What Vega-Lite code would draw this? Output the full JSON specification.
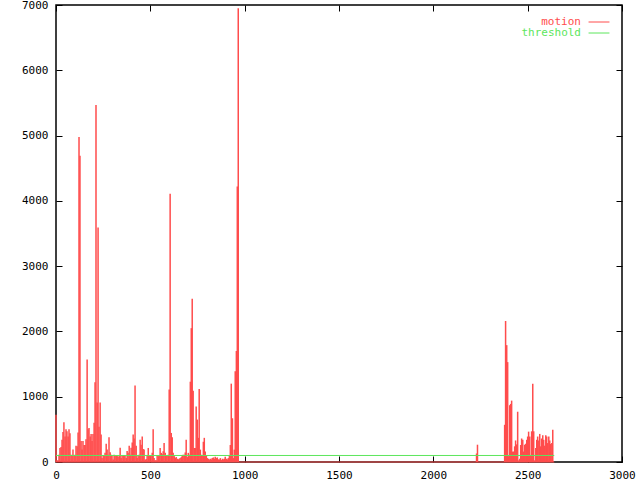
{
  "$schema": "https://vega.github.io/schema/vega-lite/v6.json",
  "width": 566,
  "height": 457,
  "autosize": {"type": "none"},
  "padding": {"left": 56, "top": 5, "right": 18, "bottom": 18},
  "background": "white",
  "view": {"stroke": "black", "strokeWidth": 1.5, "fill": null},
  "config": {"font": "DejaVu Sans Mono"},
  "data": {"values": [
    {"x":0,"motion":725},{"x":5,"motion":25},{"x":11,"motion":25},{"x":16,"motion":110},{"x":21,"motion":215},{"x":27,"motion":230},{"x":32,"motion":340},{"x":37,"motion":460},{"x":42,"motion":610},{"x":48,"motion":390},
    {"x":53,"motion":500},{"x":58,"motion":470},{"x":64,"motion":390},{"x":69,"motion":500},{"x":74,"motion":440},{"x":80,"motion":110},{"x":85,"motion":90},{"x":90,"motion":190},{"x":96,"motion":100},{"x":101,"motion":110},
    {"x":106,"motion":250},{"x":112,"motion":240},{"x":117,"motion":450},{"x":122,"motion":4980},{"x":127,"motion":4690},{"x":133,"motion":320},{"x":138,"motion":190},{"x":143,"motion":320},{"x":149,"motion":260},{"x":154,"motion":260},
    {"x":159,"motion":350},{"x":165,"motion":1570},{"x":170,"motion":500},{"x":175,"motion":520},{"x":181,"motion":390},{"x":186,"motion":430},{"x":191,"motion":320},{"x":196,"motion":430},{"x":202,"motion":600},{"x":207,"motion":1220},
    {"x":212,"motion":5470},{"x":218,"motion":910},{"x":223,"motion":3590},{"x":228,"motion":540},{"x":234,"motion":910},{"x":239,"motion":420},{"x":244,"motion":60},{"x":250,"motion":100},{"x":255,"motion":90},{"x":260,"motion":140},
    {"x":266,"motion":280},{"x":271,"motion":190},{"x":276,"motion":110},{"x":281,"motion":380},{"x":287,"motion":150},{"x":292,"motion":110},{"x":297,"motion":90},{"x":303,"motion":40},{"x":308,"motion":110},{"x":313,"motion":100},
    {"x":319,"motion":90},{"x":324,"motion":100},{"x":329,"motion":80},{"x":335,"motion":100},{"x":340,"motion":220},{"x":345,"motion":60},{"x":350,"motion":90},{"x":356,"motion":95},{"x":361,"motion":105},{"x":366,"motion":90},
    {"x":372,"motion":60},{"x":377,"motion":170},{"x":382,"motion":140},{"x":388,"motion":250},{"x":393,"motion":110},{"x":398,"motion":220},{"x":404,"motion":300},{"x":409,"motion":420},{"x":414,"motion":360},{"x":419,"motion":1170},
    {"x":425,"motion":250},{"x":430,"motion":60},{"x":435,"motion":100},{"x":441,"motion":110},{"x":446,"motion":340},{"x":451,"motion":265},{"x":457,"motion":390},{"x":462,"motion":200},{"x":467,"motion":190},{"x":473,"motion":35},
    {"x":478,"motion":45},{"x":483,"motion":100},{"x":489,"motion":215},{"x":494,"motion":90},{"x":499,"motion":90},{"x":504,"motion":90},{"x":510,"motion":140},{"x":515,"motion":500},{"x":520,"motion":60},{"x":526,"motion":25},
    {"x":531,"motion":25},{"x":536,"motion":90},{"x":542,"motion":90},{"x":547,"motion":100},{"x":552,"motion":215},{"x":558,"motion":140},{"x":563,"motion":120},{"x":568,"motion":165},{"x":573,"motion":290},{"x":579,"motion":140},
    {"x":584,"motion":90},{"x":589,"motion":90},{"x":595,"motion":110},{"x":600,"motion":1110},{"x":605,"motion":4110},{"x":611,"motion":445},{"x":616,"motion":380},{"x":621,"motion":140},{"x":627,"motion":90},{"x":632,"motion":60},
    {"x":637,"motion":75},{"x":643,"motion":50},{"x":648,"motion":40},{"x":653,"motion":50},{"x":658,"motion":60},{"x":664,"motion":75},{"x":669,"motion":90},{"x":674,"motion":110},{"x":680,"motion":110},{"x":685,"motion":145},
    {"x":690,"motion":340},{"x":696,"motion":75},{"x":701,"motion":140},{"x":706,"motion":110},{"x":712,"motion":1230},{"x":717,"motion":2050},{"x":722,"motion":2500},{"x":727,"motion":1090},{"x":733,"motion":215},{"x":738,"motion":215},
    {"x":743,"motion":850},{"x":749,"motion":650},{"x":754,"motion":370},{"x":759,"motion":1120},{"x":765,"motion":190},{"x":770,"motion":110},{"x":775,"motion":100},{"x":781,"motion":310},{"x":786,"motion":370},{"x":791,"motion":160},
    {"x":797,"motion":100},{"x":802,"motion":60},{"x":807,"motion":50},{"x":812,"motion":40},{"x":818,"motion":50},{"x":823,"motion":40},{"x":828,"motion":60},{"x":834,"motion":70},{"x":839,"motion":50},{"x":844,"motion":80},
    {"x":850,"motion":60},{"x":855,"motion":70},{"x":860,"motion":40},{"x":866,"motion":40},{"x":871,"motion":60},{"x":876,"motion":30},{"x":882,"motion":50},{"x":887,"motion":40},{"x":892,"motion":50},{"x":897,"motion":80},
    {"x":903,"motion":50},{"x":908,"motion":40},{"x":913,"motion":60},{"x":919,"motion":100},{"x":924,"motion":260},{"x":929,"motion":1200},{"x":935,"motion":670},{"x":940,"motion":60},{"x":945,"motion":190},{"x":950,"motion":1390},
    {"x":956,"motion":1700},{"x":961,"motion":4220},{"x":966,"motion":6950},{"x":1000,"motion":0},
    {"x":2229,"motion":130},{"x":2234,"motion":265},
    {"x":2378,"motion":570},{"x":2383,"motion":2160},{"x":2389,"motion":1790},{"x":2394,"motion":1530},{"x":2399,"motion":90},{"x":2405,"motion":870},{"x":2410,"motion":890},{"x":2415,"motion":940},{"x":2420,"motion":160},{"x":2426,"motion":160},
    {"x":2431,"motion":240},{"x":2436,"motion":330},{"x":2442,"motion":270},{"x":2447,"motion":770},{"x":2452,"motion":25},{"x":2458,"motion":50},{"x":2463,"motion":260},{"x":2468,"motion":360},{"x":2474,"motion":340},{"x":2479,"motion":160},
    {"x":2484,"motion":265},{"x":2490,"motion":280},{"x":2495,"motion":340},{"x":2500,"motion":390},{"x":2505,"motion":465},{"x":2511,"motion":390},{"x":2516,"motion":100},{"x":2521,"motion":470},{"x":2527,"motion":1200},{"x":2532,"motion":470},
    {"x":2537,"motion":25},{"x":2543,"motion":215},{"x":2548,"motion":340},{"x":2553,"motion":390},{"x":2559,"motion":330},{"x":2564,"motion":430},{"x":2569,"motion":240},{"x":2574,"motion":360},{"x":2580,"motion":410},{"x":2585,"motion":340},
    {"x":2590,"motion":250},{"x":2596,"motion":410},{"x":2601,"motion":390},{"x":2606,"motion":290},{"x":2612,"motion":390},{"x":2617,"motion":330},{"x":2622,"motion":275},{"x":2628,"motion":290},{"x":2633,"motion":495},{"x":2641,"motion":0}
  ]},
  "layer": [
    {
      "mark": {"type": "rule", "strokeWidth": 1.5},
      "encoding": {
        "x": {"field": "x", "type": "quantitative", "scale": {"domain": [0, 3000], "nice": false},
              "axis": {"orient": "bottom", "title": null, "values": [0,500,1000,1500,2000,2500,3000], "format": "d", "tickSize": -6, "tickColor": "black", "tickWidth": 1, "domain": false, "grid": false, "labelFont": "DejaVu Sans Mono", "labelFontSize": 11, "labelColor": "black", "labelPadding": 13, "labelFlush": false, "labelOverlap": false}},
        "y": {"field": "motion", "type": "quantitative", "scale": {"domain": [0, 7000], "nice": false},
              "axis": {"orient": "left", "title": null, "values": [0,1000,2000,3000,4000,5000,6000,7000], "format": "d", "tickSize": -6, "tickColor": "black", "tickWidth": 1, "domain": false, "grid": false, "labelFont": "DejaVu Sans Mono", "labelFontSize": 11, "labelColor": "black", "labelPadding": 14, "labelFlush": false, "labelOverlap": false}},
        "y2": {"datum": 0},
        "color": {"datum": "motion", "type": "nominal",
                  "scale": {"domain": ["motion", "threshold"], "range": ["#ff4c4c", "#5ce65c"]},
                  "legend": {"orient": "none", "legendX": 537, "legendY": 11, "title": null, "symbolType": "M-1.9,0H1.9", "symbolSize": 121, "symbolStrokeWidth": 1, "symbolFillColor": "transparent",
                             "labelFont": "DejaVu Sans Mono", "labelFontSize": 11, "labelAlign": "right", "labelOffset": -24, "padding": 0, "rowPadding": 0,
                             "encode": {"labels": {"update": {"fill": {"signal": "scale('color', datum.value)"}}},
                                        "symbols": {"update": {"stroke": {"signal": "scale('color', datum.value)"}, "strokeWidth": {"value": 1}}}}}}
      }
    },
    {
      "mark": {"type": "rule", "color": "#ff4c4c", "strokeWidth": 1},
      "encoding": {
        "x": {"aggregate": "min", "field": "x", "type": "quantitative", "axis": null},
        "x2": {"aggregate": "max", "field": "x"},
        "y": {"datum": 0, "type": "quantitative", "axis": null}
      }
    },
    {
      "data": {"values": [{"x": 0, "threshold": 100}, {"x": 2641, "threshold": 100}]},
      "mark": {"type": "line", "strokeWidth": 1},
      "encoding": {
        "x": {"field": "x", "type": "quantitative",
              "axis": {"orient": "top", "title": null, "values": [0,500,1000,1500,2000,2500,3000], "labels": false, "tickSize": -6, "tickColor": "black", "tickWidth": 1, "domain": false, "grid": false}},
        "y": {"field": "threshold", "type": "quantitative",
              "axis": {"orient": "right", "title": null, "values": [0,1000,2000,3000,4000,5000,6000,7000], "labels": false, "tickSize": -6, "tickColor": "black", "tickWidth": 1, "domain": false, "grid": false}},
        "color": {"datum": "threshold", "type": "nominal"}
      }
    }
  ],
  "resolve": {"axis": {"x": "independent", "y": "independent"}}
}
